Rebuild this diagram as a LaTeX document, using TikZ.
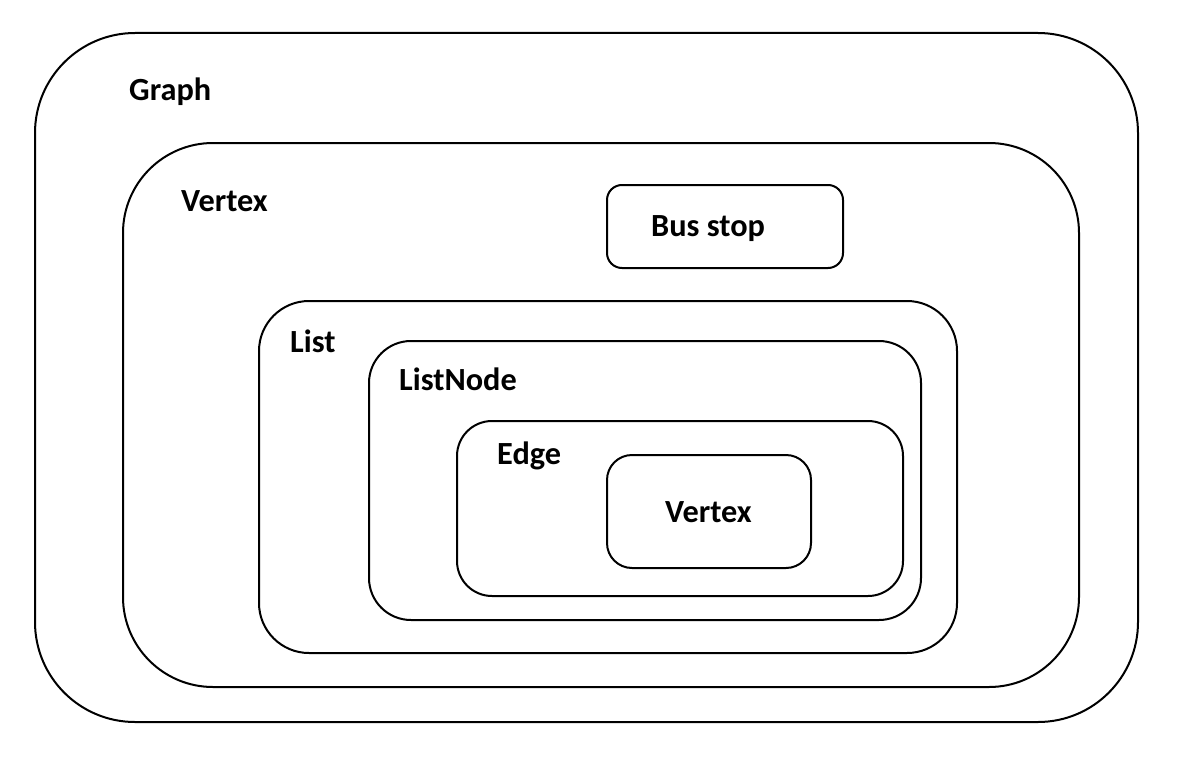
\documentclass[tikz,border=0pt]{standalone}
\usepackage{fontspec}
\setmainfont{Carlito}
\begin{document}
\begin{tikzpicture}[x=1pt,y=-1pt,
  box/.style={draw=black,line width=2pt,rectangle,inner sep=0pt,outer sep=0pt},
  lbl/.style={anchor=base west,inner sep=0pt,font=\fontsize{32.3}{36}\selectfont\bfseries}]
\useasboundingbox[fill=white] (0,0) rectangle (1188,760);
\node[box,minimum width=1103pt,minimum height=689pt,rounded corners=100pt] (graph) at (586.5,377.5) {};
\node[box,minimum width=956pt,minimum height=544pt,rounded corners=90pt] (vertexouter) at (601,415) {};
\node[box,minimum width=236pt,minimum height=83pt,rounded corners=15pt] (busstop) at (725,226.5) {};
\node[box,minimum width=698pt,minimum height=352pt,rounded corners=50pt] (list) at (608,477) {};
\node[box,minimum width=552pt,minimum height=279pt,rounded corners=42pt] (listnode) at (645,480.5) {};
\node[box,minimum width=446pt,minimum height=175pt,rounded corners=35pt] (edge) at (680,508.5) {};
\node[box,minimum width=204pt,minimum height=113pt,rounded corners=25pt] (vertexinner) at (709,511.5) {};
\node[lbl] (tgraph) at (129,100) {Graph};
\node[lbl] (tvertexouter) at (181,211) {Vertex};
\node[lbl] (tbusstop) at (651,236) {Bus stop};
\node[lbl] (tlist) at (290,352) {List};
\node[lbl] (tlistnode) at (399,390) {ListNode};
\node[lbl] (tedge) at (497,464) {Edge};
\node[lbl] (tvertexinner) at (665,522) {Vertex};
\end{tikzpicture}
\end{document}
